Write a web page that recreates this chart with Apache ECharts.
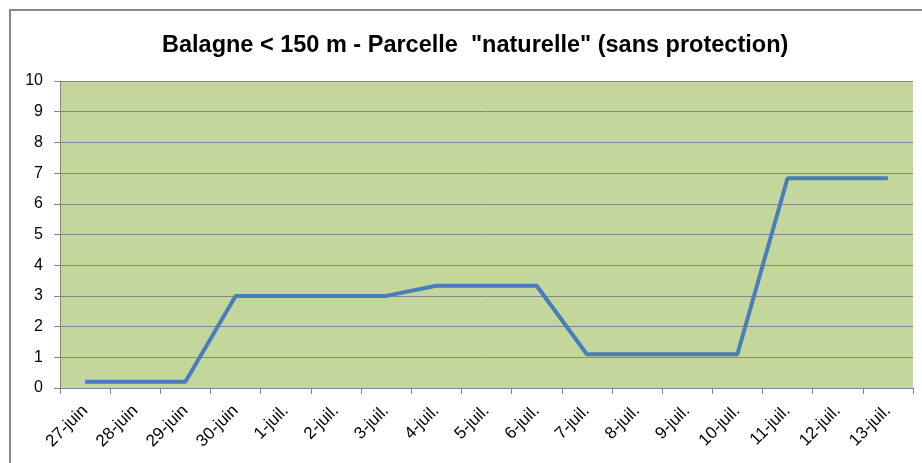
<!DOCTYPE html>
<html><head><meta charset="utf-8">
<script src="https://cdn.jsdelivr.net/npm/echarts@6/dist/echarts.min.js"></script>
<style>html,body{margin:0;padding:0;background:#fff}#c{width:922px;height:463px}</style>
</head><body><div id="c"></div>
<script>
const categories = ['27-juin','28-juin','29-juin','30-juin','1-juil.','2-juil.','3-juil.','4-juil.','5-juil.','6-juil.','7-juil.','8-juil.','9-juil.','10-juil.','11-juil.','12-juil.','13-juil.'];
const values = [0.2,0.2,0.2,3.0,3.0,3.0,3.0,3.33,3.33,3.33,1.1,1.1,1.1,1.1,6.83,6.83,6.83];
const yTicks = [0,1,2,3,4,5,6,7,8,9,10];
const chart = echarts.init(document.getElementById('c'));
chart.setOption({
  animation:false,
  title:{text:'Balagne < 150 m - Parcelle  "naturelle" (sans protection)',left:157,top:29,
    textStyle:{fontFamily:'Liberation Sans',fontWeight:'bold',fontSize:23.5,color:'#000'}},
  graphic:[{type:'rect',shape:{x:10,y:10,width:960,height:520},style:{fill:'none',stroke:'#868686',lineWidth:2},silent:true}],
  grid:{left:60,right:9,top:81,bottom:75,show:true,backgroundColor:'#c3d69b',borderWidth:0},
  xAxis:{type:'category',data:categories,boundaryGap:true,
    axisLine:{lineStyle:{color:'#868686',width:1}},
    axisTick:{show:true,length:6,lineStyle:{color:'#868686'}},
    axisLabel:{rotate:45,fontFamily:'Liberation Sans',fontSize:17,color:'#000',margin:20,interval:0}},
  yAxis:{type:'value',min:0,max:10,interval:1,
    axisLine:{show:true,lineStyle:{color:'#868686',width:1}},
    axisTick:{show:true,length:6,lineStyle:{color:'#868686'}},
    axisLabel:{fontFamily:'Liberation Sans',fontSize:16,color:'#000',margin:17,
      formatter:v=>yTicks.includes(v)?String(v):''},
    splitLine:{show:true,lineStyle:{color:'#868686',width:1}}},
  series:[{type:'line',data:values,symbol:'none',lineStyle:{color:'#4a7ebb',width:4},itemStyle:{color:'#4a7ebb'}}]
});
</script></body></html>
